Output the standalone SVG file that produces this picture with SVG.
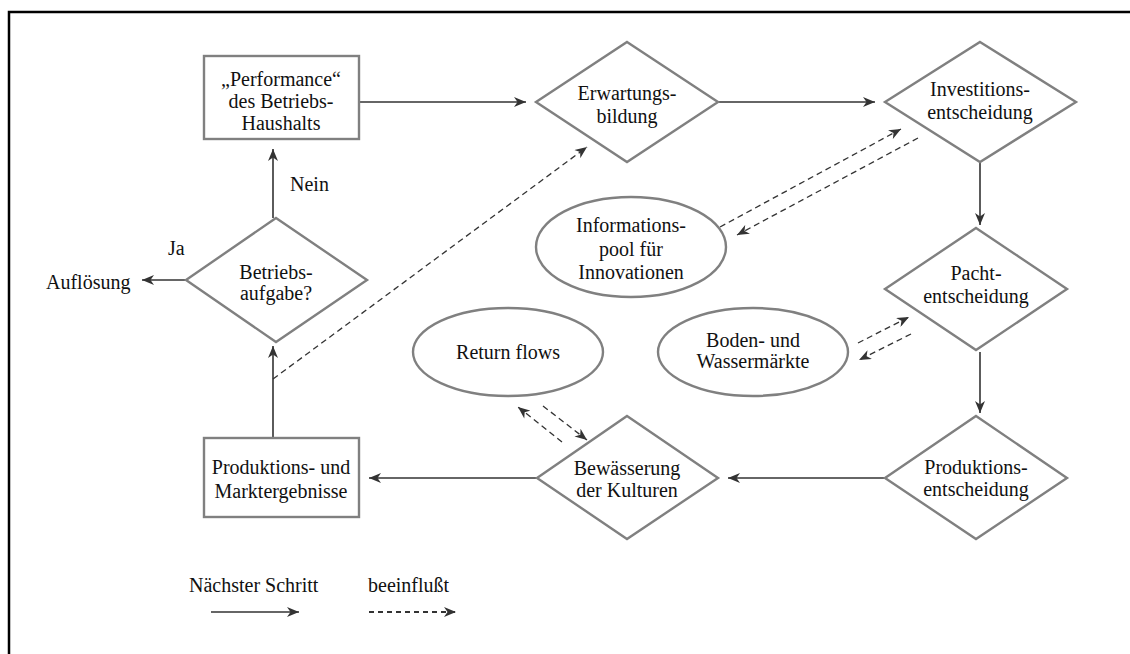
<svg xmlns="http://www.w3.org/2000/svg" width="1130" height="654" viewBox="0 0 1130 654">
<style>
.node{fill:#fff;stroke:#808080;stroke-width:2.4}
text{font-family:'Liberation Serif','DejaVu Serif',serif;font-size:20px;fill:#111}
.t{text-anchor:middle}
.c{fill:none;stroke:#333;stroke-width:1.6;marker-end:url(#ah)}
.d{fill:none;stroke:#333;stroke-width:1.3;stroke-dasharray:6 4;marker-end:url(#ah)}
</style>
<defs>
<marker id="ah" viewBox="0 0 12 10" refX="12" refY="5" markerWidth="13" markerHeight="10" orient="auto" markerUnits="userSpaceOnUse">
<path d="M0,0 L12,5 L0,10 L3.5,5 z" fill="#333"/>
</marker>
</defs>
<rect width="1130" height="654" fill="#fff"/>
<path d="M9,654 V12 H1130" fill="none" stroke="#000" stroke-width="2.5"/>

<g id="connectors">
<line class="c" x1="359" y1="102" x2="526" y2="102"/>
<line class="c" x1="718" y1="102" x2="875" y2="102"/>
<line class="c" x1="980" y1="162" x2="980" y2="225"/>
<line class="c" x1="980" y1="352" x2="980" y2="413"/>
<line class="c" x1="885" y1="478" x2="728" y2="478"/>
<line class="c" x1="537" y1="478" x2="369" y2="478"/>
<line class="c" x1="273" y1="438" x2="273" y2="346"/>
<line class="c" x1="273" y1="218" x2="273" y2="149"/>
<line class="c" x1="187" y1="280" x2="142" y2="280"/>
<line class="d" x1="273" y1="379" x2="587" y2="147"/>
<line class="d" x1="720" y1="227" x2="901" y2="129"/>
<line class="d" x1="918" y1="138" x2="737" y2="235"/>
<line class="d" x1="858" y1="343" x2="909" y2="317"/>
<line class="d" x1="911" y1="334" x2="859" y2="360"/>
<line class="d" x1="562" y1="442" x2="518" y2="407"/>
<line class="d" x1="543" y1="406" x2="587" y2="440"/>
<line class="c" x1="211" y1="612" x2="299" y2="612"/>
<line class="d" x1="369" y1="612" x2="456" y2="612" style="stroke-width:2;stroke-dasharray:5 4"/>
</g>

<g id="performance">
<rect class="node" x="204" y="56" width="155" height="83"/>
<text class="t" x="281" y="86" font-family="Liberation Serif">„Performance“</text>
<text class="t" x="281" y="108" font-family="Liberation Serif">des Betriebs-</text>
<text class="t" x="281" y="130" font-family="Liberation Serif">Haushalts</text>
</g>
<g id="erwartung">
<polygon class="node" points="627,42 718,102 627,162 536,102"/>
<text class="t" x="627" y="100">Erwartungs-</text>
<text class="t" x="627" y="123">bildung</text>
</g>
<g id="investition">
<polygon class="node" points="980,42 1076,102 980,162 885,102"/>
<text class="t" x="980" y="96">Investitions-</text>
<text class="t" x="980" y="119">entscheidung</text>
</g>
<g id="pacht">
<polygon class="node" points="976,228 1067,289 976,350 885,289"/>
<text class="t" x="976" y="280">Pacht-</text>
<text class="t" x="976" y="303">entscheidung</text>
</g>
<g id="produktionsentscheidung">
<polygon class="node" points="976,416 1067,478 976,539 885,478"/>
<text class="t" x="976" y="474">Produktions-</text>
<text class="t" x="976" y="496">entscheidung</text>
</g>
<g id="bewaesserung">
<polygon class="node" points="627,416 718,478 627,539 537,478"/>
<text class="t" x="627" y="475">Bewässerung</text>
<text class="t" x="627" y="497">der Kulturen</text>
</g>
<g id="ergebnisse">
<rect class="node" x="204" y="438" width="155" height="79"/>
<text class="t" x="281" y="474">Produktions- und</text>
<text class="t" x="281" y="498">Marktergebnisse</text>
</g>
<g id="betriebsaufgabe">
<polygon class="node" points="276,218 367,280 276,342 186,280"/>
<text class="t" x="276" y="279">Betriebs-</text>
<text class="t" x="276" y="300">aufgabe?</text>
</g>
<g id="informationspool">
<ellipse class="node" cx="631" cy="247" rx="95" ry="50"/>
<text class="t" x="631" y="232">Informations-</text>
<text class="t" x="631" y="256">pool für</text>
<text class="t" x="631" y="279">Innovationen</text>
</g>
<g id="returnflows">
<ellipse class="node" cx="508" cy="352" rx="95" ry="44"/>
<text class="t" x="508" y="359">Return flows</text>
</g>
<g id="maerkte">
<ellipse class="node" cx="753" cy="352" rx="95" ry="44"/>
<text class="t" x="753" y="347">Boden- und</text>
<text class="t" x="753" y="368">Wassermärkte</text>
</g>
<g id="labels">
<text x="290" y="191">Nein</text>
<text x="168" y="255">Ja</text>
<text x="46" y="289">Auflösung</text>
<text x="189" y="592">Nächster Schritt</text>
<text x="368" y="592">beeinflußt</text>
</g>
</svg>
